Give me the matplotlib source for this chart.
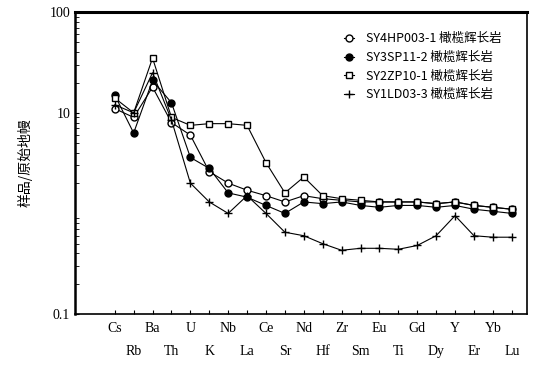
#!/usr/bin/env python3

import matplotlib
matplotlib.use("Agg")
import matplotlib.pyplot as plt
from matplotlib.ticker import FixedLocator, LogLocator, NullFormatter

plt.rcParams['font.family'] = ['Noto Sans CJK SC', 'DejaVu Sans']

# Elements (primitive-mantle normalised spider diagram)
elements = ["Cs", "Rb", "Ba", "Th", "U", "K", "Nb", "La", "Ce", "Sr", "Nd",
            "Hf", "Zr", "Sm", "Eu", "Ti", "Gd", "Dy", "Y", "Er", "Yb", "Lu"]

# Sample / primitive mantle values
open_circle = [11, 9.0, 18, 8.0, 6.0, 2.6, 2.0, 1.7, 1.5, 1.3, 1.5,
               1.4, 1.35, 1.3, 1.3, 1.3, 1.3, 1.25, 1.3, 1.2, 1.15, 1.1]
filled_circle = [15, 6.3, 21, 12.6, 3.6, 2.8, 1.6, 1.45, 1.2, 1.0, 1.3,
                 1.25, 1.3, 1.2, 1.15, 1.2, 1.2, 1.15, 1.2, 1.1, 1.05, 1.0]
open_square = [14, 10, 35, 9.0, 7.5, 7.8, 7.8, 7.5, 3.2, 1.6, 2.3,
               1.5, 1.4, 1.35, 1.3, 1.3, 1.3, 1.25, 1.3, 1.2, 1.15, 1.1]
plus_series = [12, 10, 25, 8.5, 2.0, 1.3, 1.0, 1.5, 1.0, 0.65, 0.6,
               0.5, 0.43, 0.45, 0.45, 0.44, 0.48, 0.6, 0.95, 0.6, 0.58, 0.58]

labels = ["SY4HP003-1 橄榄辉长岩", "SY3SP11-2 橄榄辉长岩",
          "SY2ZP10-1 橄榄辉长岩", "SY1LD03-3 橄榄辉长岩"]


def main():
    fig = plt.figure(figsize=(5.36, 3.69), dpi=100)
    ax = fig.add_axes([0.14, 0.149, 0.843, 0.818])

    x = list(range(len(elements)))
    ax.plot(x, open_circle, color="black", lw=0.8, marker="o", ms=5,
            mfc="white", mec="black", label=labels[0])
    ax.plot(x, filled_circle, color="black", lw=0.8, marker="o", ms=5,
            mfc="black", mec="black", label=labels[1])
    ax.plot(x, open_square, color="black", lw=0.8, marker="s", ms=5,
            mfc="white", mec="black", label=labels[2])
    ax.plot(x, plus_series, color="black", lw=0.8, marker="+", ms=6,
            mec="black", label=labels[3])

    ax.set_yscale("log")
    ax.set_ylim(0.1, 100)
    ax.set_xlim(-2.1, len(elements) - 0.2)
    ax.yaxis.set_major_locator(FixedLocator([0.1, 10, 100]))
    ax.set_yticklabels(["0.1", "10", "100"], fontsize=10, family="Liberation Serif")
    ax.yaxis.set_minor_locator(LogLocator(base=10, subs=range(2, 10)))
    ax.yaxis.set_minor_formatter(NullFormatter())
    ax.tick_params(axis="both", which="both", direction="in", length=3)

    ax.set_xticks(x)
    ax.set_xticklabels([e if i % 2 == 0 else "\n" + e for i, e in enumerate(elements)],
                       fontsize=10, family="Liberation Serif", linespacing=2.0)
    ax.tick_params(axis="x", pad=6)

    ax.set_ylabel("样品/原始地幔", fontsize=10, labelpad=12)

    for side in ["top", "bottom", "left", "right"]:
        ax.spines[side].set_linewidth(1.2)
    ax.spines["top"].set_linewidth(2.2)
    ax.spines["left"].set_linewidth(1.8)

    ax.legend(loc="upper right", bbox_to_anchor=(0.97, 0.97), fontsize=9,
              frameon=False, handlelength=0.8, borderpad=0.4, labelspacing=0.45,
              handletextpad=1.0)

    fig.savefig("out.png", dpi=100)


if __name__ == "__main__":
    main()
